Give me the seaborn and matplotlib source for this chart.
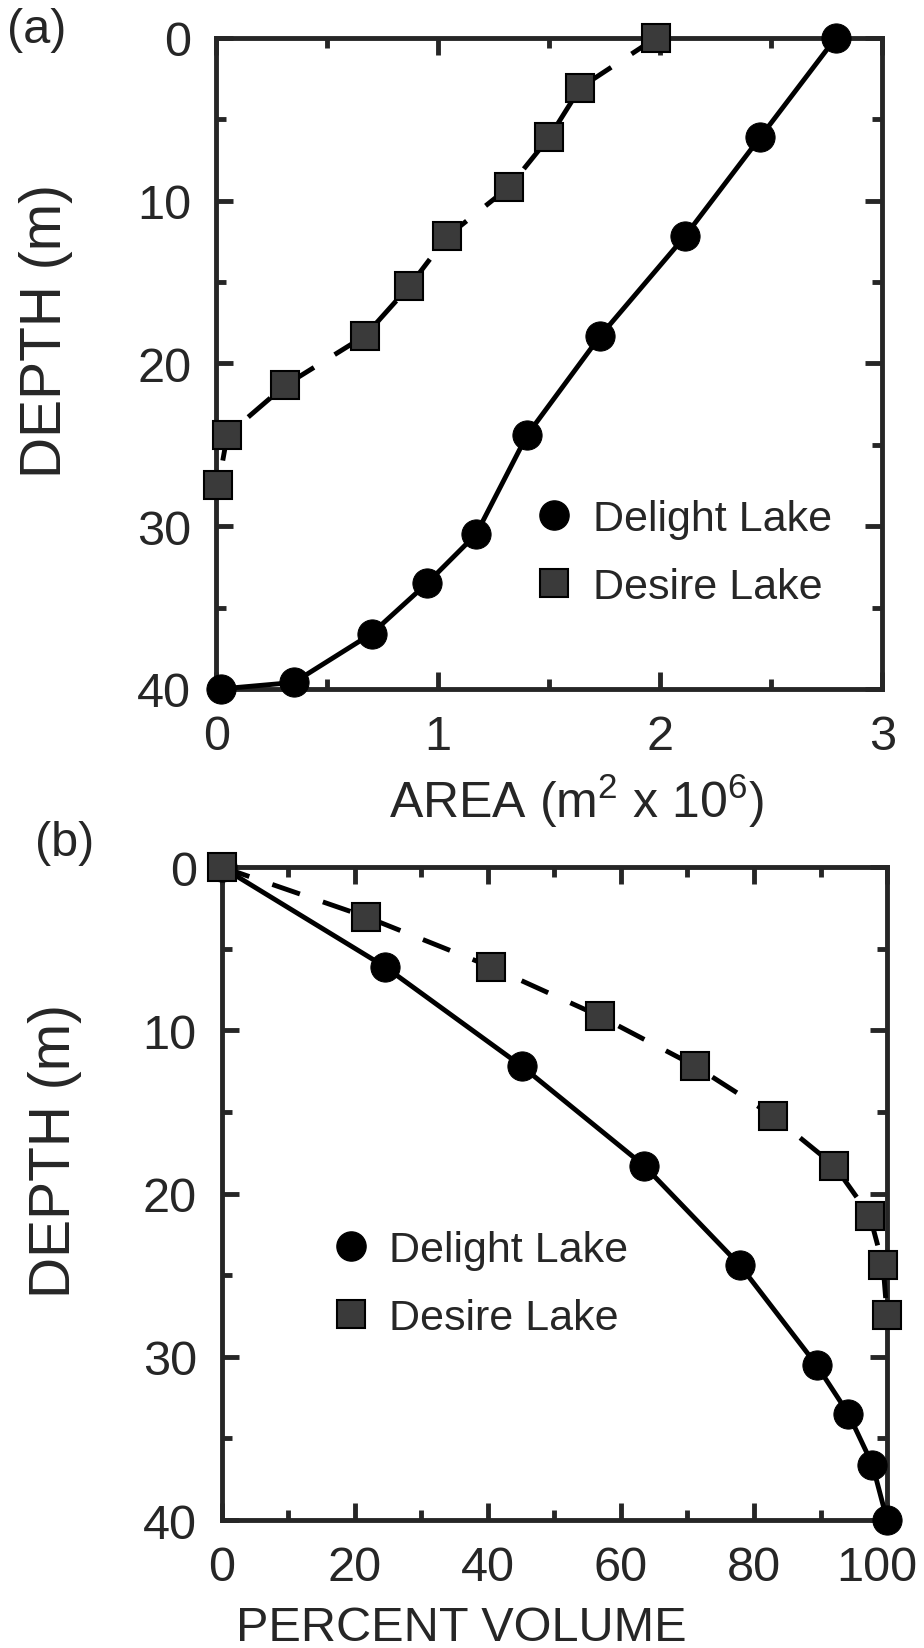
import matplotlib
matplotlib.use('Agg')
import matplotlib.pyplot as plt
from matplotlib.lines import Line2D
from matplotlib.ticker import MultipleLocator
from matplotlib.transforms import ScaledTranslation
import pandas as pd
import seaborn as sns

# panel (a): hypsographic area
delight_depth_a = [0, 6.1, 12.2, 18.3, 24.4, 30.5, 33.5, 36.6, 39.6, 40]
delight_area = [2.79, 2.45, 2.11, 1.73, 1.40, 1.17, 0.95, 0.70, 0.35, 0.02]
desire_depth_a = [0, 3.05, 6.1, 9.15, 12.2, 15.25, 18.3, 21.35, 24.4, 27.45]
desire_area = [1.98, 1.64, 1.50, 1.32, 1.04, 0.87, 0.67, 0.31, 0.05, 0.01]

# panel (b): cumulative percent volume
delight_depth_b = [0, 6.1, 12.2, 18.3, 24.4, 30.5, 33.5, 36.6, 40]
delight_pct = [0, 24.5, 45.1, 63.5, 77.9, 89.4, 94.2, 97.8, 100]
desire_depth_b = [0, 3.05, 6.1, 9.15, 12.2, 15.25, 18.3, 21.35, 24.4, 27.45]
desire_pct = [0, 21.7, 40.4, 56.9, 71.2, 82.9, 92.1, 97.4, 99.4, 100]

sns.set_style('ticks')
plt.rcParams['font.family'] = ['Liberation Sans', 'DejaVu Sans']
plt.rcParams['mathtext.default'] = 'regular'

LW = 3.5
SQ_COLOR = '#3a3a3a'

fig = plt.figure(figsize=(9.24, 16.49), dpi=100)
ax1 = fig.add_axes([0.234, 0.5816, 0.721, 0.3948])
ax2 = fig.add_axes([0.240, 0.0776, 0.720, 0.396])


def draw(ax, x1, y1, x2, y2):
    d1 = pd.DataFrame({'x': x1, 'y': y1})
    d2 = pd.DataFrame({'x': x2, 'y': y2})
    sns.lineplot(data=d1, x='x', y='y', sort=False, estimator=None, ax=ax,
                 color='black', lw=LW, marker='o', markersize=21,
                 markeredgecolor='black', clip_on=False, zorder=3)
    sns.lineplot(data=d2, x='x', y='y', sort=False, estimator=None, ax=ax,
                 color='black', lw=LW, linestyle=(0, (6, 5)), marker='s',
                 markersize=20, markerfacecolor=SQ_COLOR,
                 markeredgecolor='black', markeredgewidth=1.5,
                 clip_on=False, zorder=4)


def style(ax, xmax, xmajor, xminor):
    ax.set_xlim(0, xmax)
    ax.set_ylim(40, 0)
    ax.xaxis.set_major_locator(MultipleLocator(xmajor))
    ax.xaxis.set_minor_locator(MultipleLocator(xminor))
    ax.yaxis.set_major_locator(MultipleLocator(10))
    ax.yaxis.set_minor_locator(MultipleLocator(5))
    for s in ax.spines.values():
        s.set_linewidth(LW)
        s.set_visible(True)
    ax.tick_params(which='both', direction='in', top=True, right=True,
                   width=LW, labelsize=35, pad=18)
    ax.tick_params(which='major', length=12)
    ax.tick_params(which='minor', length=7)
    ax.set_ylabel('DEPTH (m)', fontsize=41, va='center')


draw(ax1, delight_area, delight_depth_a, desire_area, desire_depth_a)
style(ax1, 3, 1, 0.5)
ax1.set_xlabel('AREA (m$^2$ x 10$^6$)', fontsize=36)
ax1.xaxis.set_label_coords(0.54, -0.196)
ax1.xaxis.label.set_va('baseline')
ax1.yaxis.set_label_coords(-0.255, 0.551)

draw(ax2, delight_pct, delight_depth_b, desire_pct, desire_depth_b)
style(ax2, 100, 20, 10)
ax2.set_xlabel('PERCENT VOLUME', fontsize=35)
ax2.xaxis.set_label_coords(0.36, -0.183)
ax2.xaxis.label.set_va('baseline')
ax2.yaxis.set_label_coords(-0.25, 0.567)

handles = [
    Line2D([], [], color='black', marker='o', markersize=21, linestyle='none'),
    Line2D([], [], color='black', marker='s', markersize=20, linestyle='none',
           markerfacecolor=SQ_COLOR, markeredgewidth=1.5),
]
labels = ['Delight Lake', 'Desire Lake']
ax1.legend(handles, labels, loc='center left', bbox_to_anchor=(0.43, 0.209),
           frameon=False, fontsize=31, handlelength=0.6, handletextpad=0.6,
           labelspacing=0.65)
ax2.legend(handles, labels, loc='center left', bbox_to_anchor=(0.116, 0.362),
           frameon=False, fontsize=31, handlelength=0.6, handletextpad=0.6,
           labelspacing=0.65)

fig.text(0.008, 0.995, '(a)', fontsize=35, ha='left', va='top')
fig.text(0.038, 0.502, '(b)', fontsize=35, ha='left', va='top')

# nudge the "100" label so it stays inside the figure
fig.canvas.draw()
for tick in ax2.xaxis.get_major_ticks():
    if abs(tick.get_loc() - 100) < 1e-6:
        tick.label1.set_transform(tick.label1.get_transform()
                                  + ScaledTranslation(-10 / 100, 0,
                                                      fig.dpi_scale_trans))

fig.savefig('out.png', dpi=100, facecolor='white')
